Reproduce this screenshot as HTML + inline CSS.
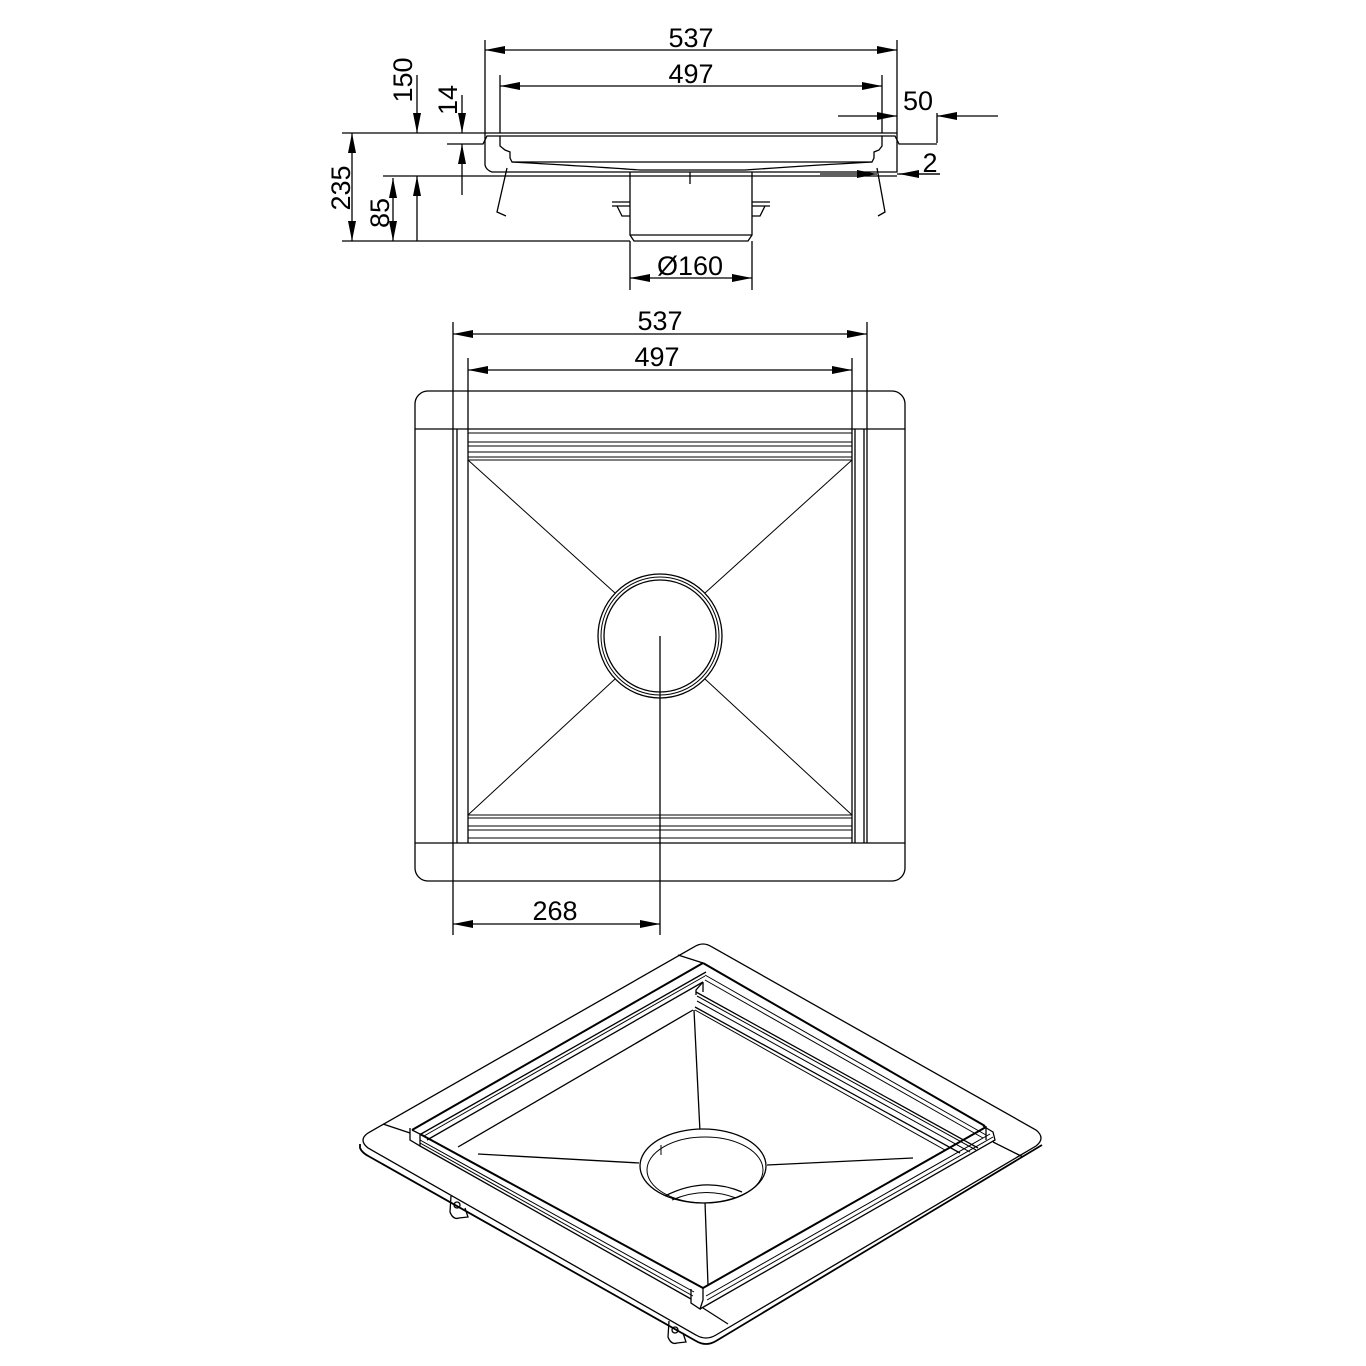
<!DOCTYPE html>
<html><head><meta charset="utf-8"><style>html,body{margin:0;padding:0;background:#fff}svg{display:block}</style></head><body>
<svg width="1366" height="1366" viewBox="0 0 1366 1366" xmlns="http://www.w3.org/2000/svg" font-family="Liberation Sans, sans-serif">
<defs>
<marker id="a" viewBox="0 0 20 8" refX="20" refY="4" markerWidth="20" markerHeight="8" markerUnits="userSpaceOnUse" orient="auto-start-reverse"><path d="M0,0 L20,4 L0,8 z" fill="#000"/></marker>
</defs>
<g stroke="#000" fill="none" stroke-width="1.3">
<!-- ===== side view ===== -->
<line x1="485" y1="40" x2="485" y2="133"/><line x1="897" y1="40" x2="897" y2="133"/>
<line x1="485" y1="50" x2="897" y2="50" marker-start="url(#a)" marker-end="url(#a)"/>
<line x1="500" y1="75" x2="500" y2="133"/><line x1="882" y1="75" x2="882" y2="133"/>
<line x1="500" y1="86" x2="882" y2="86" marker-start="url(#a)" marker-end="url(#a)"/>
<line x1="838" y1="116" x2="897" y2="116" marker-end="url(#a)"/>
<line x1="998" y1="116" x2="937" y2="116" marker-end="url(#a)"/>
<line x1="937" y1="113" x2="937" y2="143"/>
<!-- body -->
<line x1="342" y1="133" x2="897" y2="133"/>
<line x1="500" y1="136" x2="882" y2="136"/>
<path d="M447,144 L483,144 L487,136 L500,136 L500,146 L505,150 L510,152 L510,158 L512,162 L872,162 L874,158 L874,152 L879,150 L882,146 L882,136 L895,136 L899,144 L937,144"/>
<path d="M485,133 L485,165 Q486,170 492,172 L880,172 L897,172 L897,133"/>
<path d="M512,162 Q600,167 640,170 L745,170 Q800,166 872,162"/>
<line x1="383" y1="176" x2="897" y2="176"/>
<path d="M507,168 L497,212 L506,216"/><path d="M877,168 L885,212 L878,216"/>
<!-- pipe -->
<path d="M630,172 L630,235 L634,241 L748,241 L752,235 L752,172"/>
<line x1="630" y1="235" x2="752" y2="235"/>
<line x1="690" y1="172" x2="690" y2="184"/>
<path d="M612,202 L630,202 M612,206 L630,206 M617,206 L622,216 L630,216"/>
<path d="M770,202 L752,202 M770,206 L752,206 M765,206 L760,216 L752,216"/>
<line x1="342" y1="241" x2="630" y2="241"/>
<!-- vertical dims -->
<line x1="352" y1="133" x2="352" y2="241" marker-start="url(#a)" marker-end="url(#a)"/>
<line x1="393" y1="178" x2="393" y2="241" marker-start="url(#a)" marker-end="url(#a)"/>
<line x1="417" y1="75" x2="417" y2="133" marker-end="url(#a)"/>
<line x1="417" y1="241" x2="417" y2="176" marker-end="url(#a)"/>
<line x1="462" y1="95" x2="462" y2="133" marker-end="url(#a)"/>
<line x1="462" y1="195" x2="462" y2="144" marker-end="url(#a)"/>
<!-- 2 dim -->
<line x1="820" y1="174" x2="877" y2="174" marker-end="url(#a)"/>
<line x1="940" y1="174" x2="899" y2="174" marker-end="url(#a)"/>
<line x1="897" y1="174" x2="940" y2="174"/>
<!-- 160 -->
<line x1="630" y1="241" x2="630" y2="290"/><line x1="752" y1="241" x2="752" y2="290"/>
<line x1="630" y1="278" x2="752" y2="278" marker-start="url(#a)" marker-end="url(#a)"/>

<!-- ===== plan view ===== -->
<line x1="453" y1="322" x2="453" y2="935"/><line x1="867" y1="322" x2="867" y2="843"/>
<line x1="453" y1="334" x2="867" y2="334" marker-start="url(#a)" marker-end="url(#a)"/>
<line x1="468" y1="358" x2="468" y2="429"/><line x1="852" y1="358" x2="852" y2="429"/>
<line x1="468" y1="370" x2="852" y2="370" marker-start="url(#a)" marker-end="url(#a)"/>
<rect x="415" y="391" width="490" height="490" rx="13"/>
<line x1="415" y1="429" x2="905" y2="429"/><line x1="415" y1="843" x2="905" y2="843"/>
<line x1="457" y1="429" x2="457" y2="843"/><line x1="468" y1="429" x2="468" y2="843"/>
<line x1="852" y1="429" x2="852" y2="843"/><line x1="855" y1="429" x2="855" y2="843"/>
<line x1="864" y1="429" x2="864" y2="843"/>
<g stroke-width="1">
<line x1="468" y1="433" x2="852" y2="433"/><line x1="468" y1="442" x2="852" y2="442"/>
<line x1="468" y1="446" x2="852" y2="446"/><line x1="468" y1="452" x2="852" y2="452"/>
<line x1="468" y1="457" x2="852" y2="457"/><line x1="468" y1="460" x2="852" y2="460"/>
<line x1="468" y1="815" x2="852" y2="815"/><line x1="468" y1="818" x2="852" y2="818"/>
<line x1="468" y1="826" x2="852" y2="826"/><line x1="468" y1="830" x2="852" y2="830"/>
<line x1="468" y1="838" x2="852" y2="838"/>
<line x1="468" y1="460" x2="615" y2="593"/><line x1="852" y1="460" x2="705" y2="593"/>
<line x1="468" y1="815" x2="615" y2="679"/><line x1="852" y1="815" x2="705" y2="679"/>
</g>
<circle cx="660" cy="636" r="62"/><circle cx="660" cy="636" r="59" stroke-width="1"/><circle cx="660" cy="636" r="56"/>
<line x1="660" y1="636" x2="660" y2="935"/>
<line x1="453" y1="924" x2="660" y2="924" marker-start="url(#a)" marker-end="url(#a)"/>

<!-- ===== isometric ===== -->
<!-- plate -->
<path d="M694,947 Q703,941 712,947 L1036,1130 Q1046,1138 1036,1146 L716,1335 Q706,1341 696,1335 L368,1148 Q358,1140 368,1133 Z"/>
<path d="M360,1144 L360,1148 Q362,1153 370,1157 L696,1341 Q706,1347 716,1341 L1042,1145" stroke-width="1.8"/>
<!-- corner lines -->
<line x1="383" y1="1124" x2="410" y2="1133"/>
<line x1="678" y1="955" x2="703" y2="963"/>
<line x1="993" y1="1142" x2="1023" y2="1157"/>
<line x1="703" y1="1308" x2="728" y2="1324"/>
<!-- top-left rail -->
<line x1="412" y1="1130" x2="703" y2="963" stroke-width="2"/>
<line x1="421" y1="1134" x2="706" y2="972"/>
<line x1="424" y1="1136" x2="705" y2="976" stroke-width="1"/>
<line x1="427" y1="1140" x2="703" y2="982"/>
<!-- top-right rail -->
<line x1="703" y1="963" x2="985" y2="1126" stroke-width="2"/>
<line x1="705" y1="975" x2="986" y2="1135" stroke-width="1"/>
<line x1="705" y1="980" x2="983" y2="1138" stroke-width="1"/>
<line x1="703" y1="982" x2="703" y2="992"/>
<path d="M703,982 L696,990 L696,995"/>
<line x1="696" y1="992" x2="978" y2="1148"/>
<line x1="697" y1="996" x2="976" y2="1150" stroke-width="1"/>
<line x1="697" y1="1001" x2="970" y2="1152" stroke-width="1"/>
<line x1="695" y1="1007" x2="960" y2="1153"/>
<line x1="695" y1="1010" x2="945" y2="1150" stroke-width="1"/>
<!-- right end block -->
<path d="M983,1126 L993,1132 L995,1140 L700,1309"/>
<path d="M986,1126 L986,1140"/>
<!-- bottom-right rail -->
<line x1="703" y1="1288" x2="986" y2="1127" stroke-width="2"/>
<line x1="706" y1="1296" x2="990" y2="1134" stroke-width="1"/>
<line x1="707" y1="1300" x2="993" y2="1137" stroke-width="1"/>
<!-- left end block -->
<path d="M410,1128 L410,1140 L420,1146 L420,1134 L412,1130"/>
<!-- bottom-left rail -->
<line x1="420" y1="1134" x2="703" y2="1288" stroke-width="2"/>
<line x1="420" y1="1140" x2="694" y2="1292" stroke-width="1"/>
<line x1="420" y1="1143" x2="693" y2="1296" stroke-width="1"/>
<line x1="420" y1="1146" x2="691" y2="1299"/>
<path d="M691,1289 L691,1303 L700,1309 L703,1300 L703,1288"/>
<!-- funnel -->
<line x1="458" y1="1147" x2="693" y2="1010"/>
<line x1="694" y1="1010" x2="700" y2="1132"/>
<line x1="478" y1="1154" x2="639" y2="1163"/>
<line x1="767" y1="1165" x2="913" y2="1158"/>
<line x1="705" y1="1202" x2="708" y2="1285"/>
<ellipse cx="703" cy="1166" rx="63" ry="37" fill="#fff"/>
<ellipse cx="705" cy="1170" rx="58" ry="33" stroke-width="1"/>
<line x1="661" y1="1145" x2="661" y2="1155" stroke-width="1"/>
<path d="M665,1196 Q704,1176 742,1192"/>
<path d="M672,1200 Q704,1186 736,1198" stroke-width="1"/>
<!-- tabs -->
<path d="M451,1196 L450,1212 Q453,1220 459,1218 L468,1217 L465,1208"/>
<circle cx="457" cy="1205" r="3"/>
<path d="M669,1321 L668,1337 Q671,1345 677,1343 L686,1342 L683,1333"/>
<circle cx="675" cy="1330" r="3"/>
</g>
<g font-size="27" fill="#000" text-anchor="middle">
<text x="691" y="47">537</text>
<text x="691" y="83">497</text>
<text x="918" y="110">50</text>
<text x="930" y="172">2</text>
<text x="690" y="275">Ø160</text>
<text transform="translate(412,80) rotate(-90)">150</text>
<text transform="translate(457,100) rotate(-90)">14</text>
<text transform="translate(350,188) rotate(-90)">235</text>
<text transform="translate(389,213) rotate(-90)">85</text>
<text x="660" y="330">537</text>
<text x="657" y="366">497</text>
<text x="555" y="920">268</text>
</g>
</svg>
</body></html>
